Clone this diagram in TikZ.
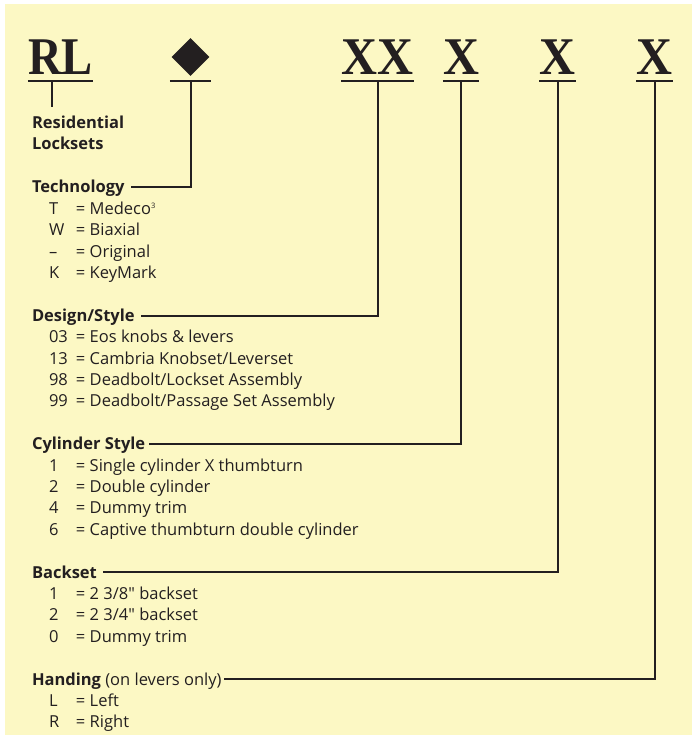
\documentclass[tikz,border=0pt]{standalone}
\usepackage{fontspec}
\setmainfont{Open Sans}[Ligatures=TeXOff]
\newfontfamily\codefont{Liberation Serif}
\usetikzlibrary{positioning,shapes.geometric}
\definecolor{keyink}{RGB}{35,31,32}
\definecolor{keypaper}{RGB}{252,248,196}
\newcommand{\slim}[2][0.94]{\scalebox{#1}[1]{#2}}
\newcommand{\keycode}[1]{\makebox[27pt][l]{#1}}

\begin{document}
\begin{tikzpicture}[x=1pt, y=-1pt, node distance=21.4pt,
    slot/.style={inner xsep=0pt, inner ysep=6pt, text depth=0pt, anchor=base, text=keyink,
      font=\codefont\bfseries\fontsize{53}{53}\selectfont},
    underbar/.style={draw=keyink, line width=2.6pt},
    wire/.style={draw=keyink, line width=2pt},
    grouphead/.style={inner sep=0pt, outer sep=0pt, text height=16.3pt, text depth=5.1pt, text=keyink,
      font=\fontsize{16.5}{19}\selectfont\bfseries},
    entry/.style={inner sep=0pt, outer sep=0pt, text height=16.3pt, text depth=5.1pt, text=keyink,
      font=\fontsize{16.5}{19}\selectfont},
    gem/.style={diamond, fill=keyink, inner sep=0pt, minimum width=38pt, minimum height=38pt}]
  \fill[keypaper] (5,4) rectangle (692,735);
  \useasboundingbox (0,0) rectangle (692,738);

  % part number
  \node[slot] (rl) at (60.5,75) {\slim[0.88]{RL}};
  \node[slot, minimum width=41pt] (tech) at (190.5,75) {};
  \node[gem, above=5pt of tech.south] (techgem) {};
  \node[slot] (design) at (377.5,75) {\slim{XX}};
  \node[slot] (cyl) at (461,75) {\slim{X}};
  \node[slot] (back) at (557.5,75) {\slim{X}};
  \node[slot] (hand) at (654.5,75) {\slim{X}};
  \draw[underbar] (rl.south west) -- (rl.south east);
  \draw[underbar] (tech.south west) -- (tech.south east);
  \draw[underbar] (design.south west) -- (design.south east);
  \draw[underbar] (cyl.south west) -- (cyl.south east);
  \draw[underbar] (back.south west) -- (back.south east);
  \draw[underbar] (hand.south west) -- (hand.south east);

  % legend
  \node[grouphead, anchor=base west] (resid) at (32,128.6) {Residential};
  \node[grouphead, below=0pt of resid.south west, anchor=north west] (lock) {Locksets};

  \node[grouphead, below=of lock.south west, anchor=north west] (techhead) {Technology};
  \node[entry, below=0pt of techhead.south west, anchor=north west, xshift=17pt] (t1) {\keycode{T}= Medeco\raisebox{5.5pt}{\fontsize{7.5}{7.5}\selectfont 3}};
  \node[entry, below=0pt of t1.south west, anchor=north west] (t2) {\keycode{W}= Biaxial};
  \node[entry, below=0pt of t2.south west, anchor=north west] (t3) {\keycode{–}= Original};
  \node[entry, below=0pt of t3.south west, anchor=north west] (t4) {\keycode{K}= KeyMark};

  \node[grouphead, below=of t4.south west, anchor=north west, xshift=-17pt] (designhead) {Design/Style};
  \node[entry, below=0pt of designhead.south west, anchor=north west, xshift=17pt] (d1) {\keycode{03}= Eos knobs \& levers};
  \node[entry, below=0pt of d1.south west, anchor=north west] (d2) {\keycode{13}= Cambria Knobset/Leverset};
  \node[entry, below=0pt of d2.south west, anchor=north west] (d3) {\keycode{98}= Deadbolt/Lockset Assembly};
  \node[entry, below=0pt of d3.south west, anchor=north west] (d4) {\keycode{99}= Deadbolt/Passage Set Assembly};

  \node[grouphead, below=of d4.south west, anchor=north west, xshift=-17pt] (cylhead) {Cylinder Style};
  \node[entry, below=0pt of cylhead.south west, anchor=north west, xshift=17pt] (c1) {\keycode{1}= Single cylinder X thumbturn};
  \node[entry, below=0pt of c1.south west, anchor=north west] (c2) {\keycode{2}= Double cylinder};
  \node[entry, below=0pt of c2.south west, anchor=north west] (c3) {\keycode{4}= Dummy trim};
  \node[entry, below=0pt of c3.south west, anchor=north west] (c4) {\keycode{6}= Captive thumbturn double cylinder};

  \node[grouphead, below=of c4.south west, anchor=north west, xshift=-17pt] (backhead) {Backset};
  \node[entry, below=0pt of backhead.south west, anchor=north west, xshift=17pt] (b1) {\keycode{1}= 2 3/8" backset};
  \node[entry, below=0pt of b1.south west, anchor=north west] (b2) {\keycode{2}= 2 3/4" backset};
  \node[entry, below=0pt of b2.south west, anchor=north west] (b3) {\keycode{0}= Dummy trim};

  \node[grouphead, below=of b3.south west, anchor=north west, xshift=-17pt] (handhead) {Handing \textmd{(on levers only)}};
  \node[entry, below=0pt of handhead.south west, anchor=north west, xshift=17pt] (h1) {\keycode{L}= Left};
  \node[entry, below=0pt of h1.south west, anchor=north west] (h2) {\keycode{R}= Right};

  % leader lines
  \coordinate (rlfoot) at ([xshift=24pt]rl.south west);
  \draw[wire, shorten >=5.3pt] (rlfoot) -- (rlfoot |- resid.north);
  \draw[wire, shorten >=6pt] (tech.south) |- (techhead.east);
  \draw[wire, shorten >=6pt] (design.south) |- (designhead.east);
  \draw[wire, shorten >=4pt] (cyl.south) |- (cylhead.east);
  \draw[wire, shorten >=6pt] (back.south) |- (backhead.east);
  \draw[wire, shorten >=2pt] (hand.south) |- (handhead.east);
\end{tikzpicture}
\end{document}
